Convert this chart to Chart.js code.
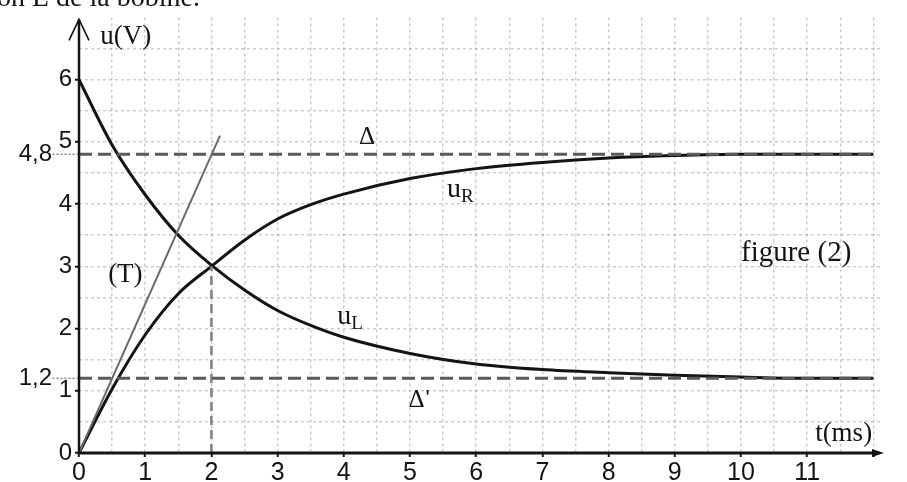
<!DOCTYPE html>
<html>
<head>
<meta charset="utf-8">
<script src="https://cdn.jsdelivr.net/npm/chart.js@4/dist/chart.umd.min.js"></script>
<style>
  html, body { margin: 0; padding: 0; background: #fff; }
  #wrap { width: 907px; height: 482px; position: relative; }
</style>
</head>
<body>
<div id="wrap"><canvas id="c"></canvas></div>
<script>
// time samples (ms) and voltages (V)
const tSamples = [0, 0.5, 1, 1.5, 2, 2.5, 3, 3.5, 4, 5, 6, 7, 8, 9, 10, 11, 12]
const uR = [0, 1.03, 1.9, 2.56, 3.0, 3.42, 3.76, 3.99, 4.16, 4.41, 4.57, 4.67, 4.74, 4.78, 4.8, 4.8, 4.8]
const uL = [6, 4.95, 4.15, 3.5, 3.02, 2.62, 2.29, 2.05, 1.86, 1.6, 1.43, 1.34, 1.29, 1.25, 1.22, 1.2, 1.2]

// asymptotes and construction lines
const deltaLevel = 4.8      // Δ
const deltaPrimeLevel = 1.2 // Δ'
const tauT = 2              // dashed vertical at t = τ
const tangentEnd = [2.13, 5.1]

// ticks (0.5 steps carry the grid, integers carry the labels)
const xTicks = [0, 0.5, 1, 1.5, 2, 2.5, 3, 3.5, 4, 4.5, 5, 5.5, 6, 6.5, 7, 7.5, 8, 8.5, 9, 9.5, 10, 10.5, 11, 11.5, 12]
const xLabels = ['0', '1', '2', '3', '4', '5', '6', '7', '8', '9', '10', '11']
const yTicks = [0, 0.5, 1, 1.2, 1.5, 2, 2.5, 3, 3.5, 4, 4.5, 4.8, 5, 5.5, 6, 6.5]
const yLabels = { 0: '0', 1: '1', 1.2: '1,2   ', 2: '2', 3: '3', 4: '4', 4.8: '4,8   ', 5: '5', 6: '6' }

const INK = '#141414'
const GRID = 'rgba(150,140,145,0.45)'
const SERIF = '"Liberation Serif", "Times New Roman", serif'
const SANS = '"Liberation Sans", Arial, sans-serif'

const pts = (xs, ys) => xs.map((x, i) => ({ x, y: ys[i] }))
const isInt = v => Math.abs(v - Math.round(v)) < 1e-6

const axesArrows = {
  id: 'axesArrows',
  afterDatasetsDraw(chart) {
    const { ctx, scales: { x, y } } = chart
    const x0 = x.getPixelForValue(0), y0 = y.getPixelForValue(0)
    const xEnd = x.right, yTop = chart.chartArea.top + 2
    ctx.save()
    ctx.strokeStyle = INK
    ctx.fillStyle = INK
    // vertical axis with open arrowhead
    ctx.lineWidth = 2.5
    ctx.beginPath(); ctx.moveTo(x0, y0 + 1); ctx.lineTo(x0, yTop); ctx.stroke()
    ctx.lineWidth = 1.6
    ctx.beginPath(); ctx.moveTo(x0 - 10, yTop + 21); ctx.lineTo(x0, yTop); ctx.lineTo(x0 + 10, yTop + 21); ctx.stroke()
    // horizontal axis with small filled arrowhead
    ctx.lineWidth = 3
    ctx.beginPath(); ctx.moveTo(x0, y0); ctx.lineTo(xEnd - 6, y0); ctx.stroke()
    ctx.beginPath(); ctx.moveTo(xEnd + 4, y0); ctx.lineTo(xEnd - 8, y0 - 4); ctx.lineTo(xEnd - 8, y0 + 4); ctx.closePath(); ctx.fill()
    ctx.restore()
  }
}

const annotations = {
  id: 'annotations',
  afterDraw(chart) {
    const { ctx, scales: { x, y } } = chart
    const px = t => x.getPixelForValue(t), py = u => y.getPixelForValue(u)
    ctx.save()
    ctx.fillStyle = INK
    ctx.textBaseline = 'alphabetic'

    // caption line cut by the top edge
    ctx.font = '28px ' + SERIF
    ctx.textAlign = 'left'
    ctx.fillText('on L de la bobine.', -3, 6)

    ctx.font = '27px ' + SERIF
    ctx.fillText('u(V)', px(0.32), py(6.57))
    ctx.fillText('t(ms)', px(11.12), py(0.19))
    ctx.fillText('(T)', px(0.44), py(2.75))
    ctx.font = '29px ' + SERIF
    ctx.fillText('figure (2)', px(10.0), py(3.08))

    // Δ and Δ'
    ctx.font = '25px ' + SERIF
    ctx.textAlign = 'center'
    ctx.fillText('Δ', px(4.35), py(4.97))
    ctx.fillText('Δ', px(5.1), py(0.74))
    ctx.textAlign = 'left'
    ctx.font = '22px ' + SANS
    ctx.fillText("'", px(5.1) + 9, py(0.74) - 2)

    // curve names with subscripts
    const sub = (main, s, t, u) => {
      ctx.font = '28px ' + SERIF
      const w = ctx.measureText(main).width
      ctx.fillText(main, px(t), py(u))
      ctx.font = '19px ' + SERIF
      ctx.fillText(s, px(t) + w, py(u) + 5)
    }
    sub('u', 'R', 5.56, 4.12)
    sub('u', 'L', 3.9, 2.07)
    ctx.restore()
  }
}

const dashed = (data, color, width, dash, extra) => Object.assign({
  data, borderColor: color, borderWidth: width, borderDash: dash, pointRadius: 0, fill: false, tension: 0
}, extra || {})

new Chart(document.getElementById('c'), {
  type: 'line',
  data: {
    datasets: [
      dashed([{ x: 0, y: deltaLevel }, { x: 12, y: deltaLevel }], '#5a5a5a', 3, [13, 6]),
      dashed([{ x: 0, y: deltaPrimeLevel }, { x: 12, y: deltaPrimeLevel }], '#5a5a5a', 3, [13, 6]),
      dashed([{ x: -0.4, y: deltaLevel }, { x: 0, y: deltaLevel }], '#8a8a8a', 1.5, [2, 2], { clip: false }),
      dashed([{ x: -0.4, y: deltaPrimeLevel }, { x: 0, y: deltaPrimeLevel }], '#8a8a8a', 1.5, [2, 2], { clip: false }),
      dashed([{ x: tauT, y: 0 }, { x: tauT, y: 3 }], '#808080', 2.5, [9, 5]),
      dashed([{ x: 0, y: 0 }, { x: tangentEnd[0], y: tangentEnd[1] }], '#6a6a6a', 2, []),
      { label: 'uR', data: pts(tSamples, uR), borderColor: INK, borderWidth: 3, pointRadius: 0, cubicInterpolationMode: 'monotone' },
      { label: 'uL', data: pts(tSamples, uL), borderColor: INK, borderWidth: 3, pointRadius: 0, cubicInterpolationMode: 'monotone' }
    ]
  },
  options: {
    responsive: true, maintainAspectRatio: false, animation: false,
    layout: { padding: { top: 10, right: 27, left: 0, bottom: 0 } },
    plugins: { legend: { display: false }, tooltip: { enabled: false } },
    scales: {
      x: {
        type: 'linear', min: 0, max: 12.1,
        afterBuildTicks: s => { s.ticks = xTicks.map(v => ({ value: v })) },
        afterFit: s => { s.height = 29 },
        border: { display: false, dash: [3, 3] },
        grid: {
          color: c => (c.tick && c.tick.value > 0) ? GRID : 'rgba(0,0,0,0)',
          lineWidth: 1.5,
          tickLength: 4,
          tickColor: c => (c.tick && isInt(c.tick.value)) ? INK : 'rgba(0,0,0,0)',
          tickWidth: 2
        },
        ticks: {
          autoSkip: false, maxRotation: 0, padding: 1, color: INK,
          font: { family: SANS, size: 25 },
          callback: v => (isInt(v) && v <= 11) ? xLabels[Math.round(v)] : ''
        }
      },
      y: {
        type: 'linear', min: 0, max: 7,
        afterBuildTicks: s => { s.ticks = yTicks.map(v => ({ value: v })) },
        afterFit: s => { s.width = 79 },
        border: { display: false, dash: [3, 3] },
        grid: {
          color: c => (c.tick && c.tick.value > 0 && isInt(c.tick.value * 2)) ? GRID : 'rgba(0,0,0,0)',
          lineWidth: 1.5,
          tickLength: 4,
          tickColor: c => (c.tick && isInt(c.tick.value)) ? INK : 'rgba(0,0,0,0)',
          tickWidth: 2
        },
        ticks: {
          autoSkip: false, padding: 3, color: INK,
          font: { family: SANS, size: 24 },
          callback: v => yLabels[v] !== undefined ? yLabels[v] : ''
        }
      }
    }
  },
  plugins: [axesArrows, annotations]
})
</script>
</body>
</html>
